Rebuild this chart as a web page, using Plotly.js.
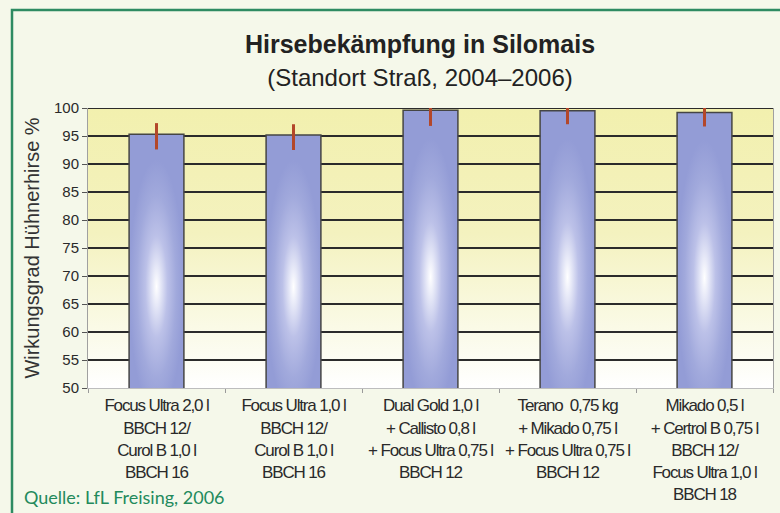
<!DOCTYPE html>
<html>
<head>
<meta charset="utf-8">
<script src="https://cdn.plot.ly/plotly-3.0.1.min.js"></script>
<style>
html,body{margin:0;padding:0;background:#f5f8ea;}
#chart{width:780px;height:513px;}
#chart .xtick text{letter-spacing:-1.15px;}
</style>
</head>
<body>
<div id="chart"></div>
<script>
// ---- data ----
var categories = [
  "Focus Ultra 2,0 l<br>BBCH 12/<br>Curol B 1,0 l<br>BBCH 16",
  "Focus Ultra 1,0 l<br>BBCH 12/<br>Curol B 1,0 l<br>BBCH 16",
  "Dual Gold 1,0 l<br>+ Callisto 0,8 l<br>+ Focus Ultra 0,75 l<br>BBCH 12",
  "Terano  0,75 kg<br>+ Mikado 0,75 l<br>+ Focus Ultra 0,75 l<br>BBCH 12",
  "Mikado 0,5 l<br>+ Certrol B 0,75 l<br>BBCH 12/<br>Focus Ultra 1,0 l<br>BBCH 18"
];
var values = [95.3, 95.2, 99.6, 99.5, 99.2];
var errPlus = [2.0, 1.9, 0.8, 0.9, 1.2];
var errMinus = [2.7, 2.7, 2.8, 2.4, 2.5];
var yTicks = [50, 55, 60, 65, 70, 75, 80, 85, 90, 95, 100];
var gridValues = [55, 60, 65, 70, 75, 80, 85, 90, 95, 100];
var yMin = 50, yMax = 100;

// ---- styling helpers ----
function svgUri(s){ return 'data:image/svg+xml;charset=utf-8,' + encodeURIComponent(s); }
var bgSvg = "<svg xmlns='http://www.w3.org/2000/svg' width='100' height='100' viewBox='0 0 100 100' preserveAspectRatio='none'>" +
  "<defs><linearGradient id='b' x1='0' y1='0' x2='0' y2='1'>" +
  "<stop offset='0' stop-color='#f2f0ae'/><stop offset='0.45' stop-color='#f4f2bf'/>" +
  "<stop offset='0.78' stop-color='#fafae6'/><stop offset='1' stop-color='#ffffff'/>" +
  "</linearGradient></defs><rect width='100' height='100' fill='url(#b)'/></svg>";
var barSvg = "<svg xmlns='http://www.w3.org/2000/svg' width='100' height='100' viewBox='0 0 100 100' preserveAspectRatio='none'>" +
  "<defs><radialGradient id='g' cx='0.5' cy='0.6' r='0.5'>" +
  "<stop offset='0' stop-color='#ffffff'/><stop offset='0.14' stop-color='#e8eaf8'/>" +
  "<stop offset='0.4' stop-color='#bcc1e8'/><stop offset='0.72' stop-color='#a1a9dc'/>" +
  "<stop offset='1' stop-color='#939cd6'/></radialGradient></defs>" +
  "<rect width='100' height='100' fill='url(#g)'/></svg>";

var barWidth = 0.4;
var images = [{
  source: svgUri(bgSvg), xref: 'paper', yref: 'paper', x: 0, y: 1,
  sizex: 1, sizey: 1, xanchor: 'left', yanchor: 'top', sizing: 'stretch', layer: 'below'
}];
values.forEach(function(v, i){
  images.push({
    source: svgUri(barSvg), xref: 'x', yref: 'y', x: i - barWidth/2, y: v,
    sizex: barWidth, sizey: v - yMin, xanchor: 'left', yanchor: 'top',
    sizing: 'stretch', layer: 'below'
  });
});

var shapes = gridValues.map(function(g){
  return {type: 'line', xref: 'paper', yref: 'y', x0: 0, x1: 1, y0: g, y1: g,
          line: {color: '#2b2b2b', width: 2}, layer: 'below'};
});
// green frame
shapes.push({type: 'rect', xref: 'paper', yref: 'paper',
  x0: (12 - 88) / 685, x1: (820 - 88) / 685, y0: (388 - 540) / 280, y1: (388 - 10) / 280,
  line: {color: '#2e8b62', width: 2.5}, fillcolor: 'rgba(0,0,0,0)', layer: 'below'});

var trace = {
  type: 'bar', x: categories, y: values, width: barWidth,
  marker: {color: 'rgba(0,0,0,0)', line: {color: '#454545', width: 1.5}},
  error_y: {type: 'data', symmetric: false, array: errPlus, arrayminus: errMinus,
            color: '#b3472a', thickness: 3, width: 0},
  hoverinfo: 'x+y'
};

var layout = {
  width: 780, height: 513,
  paper_bgcolor: '#f5f8ea', plot_bgcolor: 'rgba(0,0,0,0)',
  margin: {l: 88, r: 7, t: 108, b: 125},
  font: {family: 'Liberation Sans, Arial, sans-serif', color: '#2a2a2a'},
  title: {
    text: "<b>Hirsebekämpfung in Silomais</b><br><span style='font-size:24px'>(Standort Straß, 2004–2006)</span>",
    font: {size: 25, color: '#222', family: 'Liberation Sans, Arial, sans-serif'},
    x: (420 - 88) / 685, xref: 'paper', xanchor: 'center',
    y: 1 - 53 / 513, yref: 'container', yanchor: 'top'
  },
  xaxis: {
    type: 'category', showgrid: false, showline: true, linecolor: '#bdbdbd', linewidth: 1,
    ticks: 'outside', tickson: 'boundaries', ticklen: 4, tickcolor: '#9a9a9a',
    tickangle: 0,
    tickfont: {size: 17, color: '#2a2a2a', family: 'Liberation Sans, Arial, sans-serif'},
    ticklabelstandoff: 2, automargin: false,
    fixedrange: true
  },
  yaxis: {
    range: [yMin, yMax], tickmode: 'array', tickvals: yTicks,
    showgrid: false, zeroline: false, showline: true, mirror: true,
    linecolor: '#a0a0a0', linewidth: 1,
    ticks: 'outside', ticklen: 5, tickcolor: '#555',
    tickfont: {size: 15, color: '#2a2a2a'}, automargin: false,
    title: {text: 'Wirkungsgrad Hühnerhirse %', font: {size: 20, color: '#333'}, standoff: 8},
    fixedrange: true
  },
  images: images,
  shapes: shapes,
  showlegend: false,
  annotations: [{
    text: 'Quelle: LfL Freising, 2006', xref: 'paper', yref: 'paper',
    x: (22 - 88) / 685, y: (388 - 497) / 280, xanchor: 'left', yanchor: 'middle',
    showarrow: false, font: {family: 'Lato, Open Sans, sans-serif', size: 18, color: '#238a5c'}
  }]
};

Plotly.newPlot('chart', [trace], layout, {displayModeBar: false, staticPlot: true});
</script>
</body>
</html>
